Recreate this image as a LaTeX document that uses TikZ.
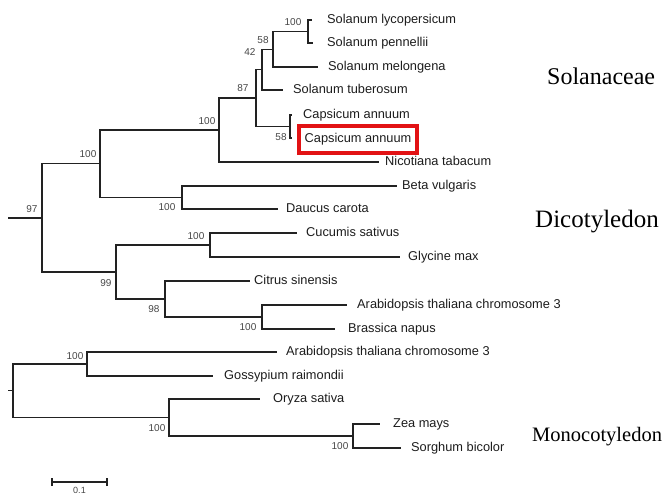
\documentclass[tikz,border=0pt]{standalone}
\usepackage{fontspec}
\setmainfont{Liberation Sans}
\newfontfamily\cladeface{Liberation Serif}
\usepackage{xcolor}
\usepackage{tikz}
\usetikzlibrary{positioning}
\definecolor{treeline}{RGB}{34,34,34}
\definecolor{leafink}{RGB}{28,28,28}
\definecolor{bootink}{RGB}{70,70,70}
\definecolor{hired}{RGB}{226,18,20}
\tikzset{
  twig/.style={draw=treeline,line width=1.3pt},
  leafl/.style={anchor=west,inner sep=0pt,text=leafink,
                font=\fontsize{12.8}{14}\selectfont,text height=9pt,text depth=2.5pt},
  bootl/.style={inner sep=0pt,text=bootink,font=\fontsize{10}{11}\selectfont},
  cladel/.style={anchor=base west,inner sep=0pt,text=black},
  hibox/.style={leafl,anchor=center,draw=hired,line width=4pt,
                minimum width=118pt,minimum height=27pt},
}

\begin{document}
\begin{tikzpicture}[x=1pt,y=-1pt]
  \useasboundingbox (0,0) rectangle (665,496);

  % ---------------- internal nodes ----------------
  \coordinate (n100a) at (308,31.5);
  \coordinate (n58a)  at (273,49.3);
  \coordinate (n42)   at (262,69.6);
  \coordinate (n58b)  at (290,126.5);
  \coordinate (n87)   at (256,98);
  \coordinate (n100b) at (219,130);
  \coordinate (n100d) at (182,197.5);
  \coordinate (n100c) at (100,163.8);
  \coordinate (n100e) at (210,245);
  \coordinate (n100f) at (262,317);
  \coordinate (n98)   at (165,299);
  \coordinate (n99)   at (116,272);
  \coordinate (n97)   at (42,217.9);
  \coordinate (r97)   at (8,217.9);
  \coordinate (n100g) at (87,364);
  \coordinate (n100i) at (353,436);
  \coordinate (n100h) at (169,417.5);
  \coordinate (nmono) at (13,390.8);
  \coordinate (rmono) at (8,390.8);

  % ---------------- leaves: tip, label ----------------
  \foreach \n/\tx/\lx/\y/\t in {
      SLy/312/327/20/Solanum lycopersicum,
      SPe/313/327/43/Solanum pennellii,
      SMe/318/328/67/Solanum melongena,
      STu/283/293/90/Solanum tuberosum,
      CAa/292/303/115/Capsicum annuum,
      NTa/379/385/162/Nicotiana tabacum,
      BVu/397/402/186/Beta vulgaris,
      DCa/278/286/209/Daucus carota,
      CSa/297/306/233/Cucumis sativus,
      GMa/400/408/257/Glycine max,
      CSi/250/254/281/Citrus sinensis,
      ATh/347/357/305/Arabidopsis thaliana chromosome 3,
      BNa/335/348/329/Brassica napus,
      ATm/277/286/352/Arabidopsis thaliana chromosome 3,
      GRa/213/224/376/Gossypium raimondii,
      OSa/260/273/399/Oryza sativa,
      ZMa/380/393/424/Zea mays,
      SBi/401/411/448/Sorghum bicolor}{
    \coordinate (t\n) at (\tx,\y);
    \node[leafl] (l\n) at (\lx,\y) {\t};
  }
  \coordinate (tCAb) at (292,138);
  \node[hibox] (lCAb) at (358,139.5) {Capsicum annuum};

  % ---------------- branches ----------------
  \foreach \p/\c in {n100a/tSLy,n100a/tSPe,n58a/n100a,n58a/tSMe,n42/n58a,n42/tSTu,
                     n58b/tCAa,n58b/tCAb,n87/n42,n87/n58b,n100b/n87,n100b/tNTa,
                     n100d/tBVu,n100d/tDCa,n100c/n100b,n100c/n100d,
                     n100e/tCSa,n100e/tGMa,n100f/tATh,n100f/tBNa,n98/tCSi,n98/n100f,
                     n99/n100e,n99/n98,n97/n100c,n97/n99,
                     n100g/tATm,n100g/tGRa,n100i/tZMa,n100i/tSBi,n100h/tOSa,n100h/n100i,
                     nmono/n100g,nmono/n100h}
    \draw[twig] (\p) |- (\c);
  \draw[twig] (r97) -- (n97);
  \draw[twig] (rmono) -- (nmono);

  % ---------------- bootstrap values ----------------
  \foreach \x/\y/\v [count=\i] in {293/22/100,263/40/58,250/52/42,243/88/87,281/137/58,
                                   207/121/100,88/154/100,32/209/97,167/207/100,196/236/100,
                                   106/283/99,154/309/98,248/327/100,75/356/100,157/428/100,
                                   340/446/100}
    \node[bootl] (bs\i) at (\x,\y) {\v};

  % ---------------- clades ----------------
  \node[cladel,font=\cladeface\fontsize{24}{26}\selectfont] (csol) at (547,84) {Solanaceae};
  \node[cladel,font=\cladeface\fontsize{25}{27}\selectfont] (cdic) at (535,227) {Dicotyledon};
  \node[cladel,font=\cladeface\fontsize{20.5}{23}\selectfont] (cmon) at (532,441) {Monocotyledon};

  % ---------------- scale bar ----------------
  \coordinate (sbl) at (52,482);
  \coordinate (sbr) at (107,482);
  \draw[twig,line width=1.2pt] (sbl) -- (sbr);
  \draw[twig,line width=1.2pt] ([yshift=-4pt]sbl) -- ([yshift=4pt]sbl);
  \draw[twig,line width=1.2pt] ([yshift=-4pt]sbr) -- ([yshift=4pt]sbr);
  \node[bootl,anchor=north,font=\fontsize{9}{10}\selectfont] (sbt) at (79.5,487) {0.1};
\end{tikzpicture}
\end{document}
